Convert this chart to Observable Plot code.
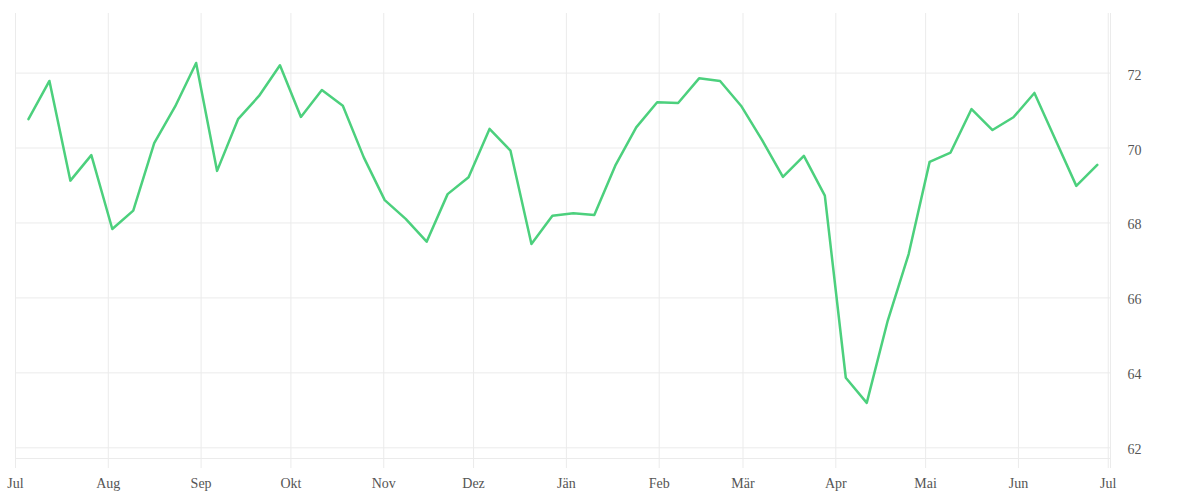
<!DOCTYPE html>
<html><head><meta charset="utf-8">
<script src="https://cdn.jsdelivr.net/npm/d3@7"></script>
<script src="https://cdn.jsdelivr.net/npm/@observablehq/plot@0.6"></script>
<style>body{margin:0;background:#fff} svg{display:block}</style>
</head><body><div id="chart"></div>
<script>
const weeks = [
  "2018-07-05","2018-07-12","2018-07-19","2018-07-26",
  "2018-08-02","2018-08-09","2018-08-16","2018-08-23","2018-08-30",
  "2018-09-06","2018-09-13","2018-09-20","2018-09-27",
  "2018-10-04","2018-10-11","2018-10-18","2018-10-25",
  "2018-11-01","2018-11-08","2018-11-15","2018-11-22","2018-11-29",
  "2018-12-06","2018-12-13","2018-12-20","2018-12-27",
  "2019-01-03","2019-01-10","2019-01-17","2019-01-24","2019-01-31",
  "2019-02-07","2019-02-14","2019-02-21","2019-02-28",
  "2019-03-07","2019-03-14","2019-03-21","2019-03-28",
  "2019-04-04","2019-04-11","2019-04-18","2019-04-25",
  "2019-05-02","2019-05-09","2019-05-16","2019-05-23","2019-05-30",
  "2019-06-06","2019-06-13","2019-06-20","2019-06-27"
];
const values = [
  70.77, 71.79, 69.13, 69.81,
  67.84, 68.33, 70.13, 71.11, 72.27,
  69.39, 70.77, 71.39, 72.21,
  70.83, 71.55, 71.13, 69.75,
  68.61, 68.11, 67.50, 68.77, 69.22,
  70.51, 69.93, 67.44, 68.19,
  68.26, 68.21, 69.53, 70.55, 71.22,
  71.20, 71.86, 71.79, 71.13,
  70.22, 69.23, 69.79, 68.73,
  63.87, 63.20, 65.39, 67.17,
  69.63, 69.88, 71.04, 70.48, 70.82,
  71.47, 70.23, 68.99, 69.55
];
const monthTicks = ["2018-07-01","2018-08-01","2018-09-01","2018-10-01","2018-11-01","2018-12-01",
  "2019-01-01","2019-02-01","2019-03-01","2019-04-01","2019-05-01","2019-06-01","2019-07-01"];
const monthLabels = ["Jul","Aug","Sep","Okt","Nov","Dez","Jän","Feb","Mär","Apr","Mai","Jun","Jul"];
const yTicks = [62, 64, 66, 68, 70, 72];

const data = weeks.map((w, i) => ({date: new Date(w + "T08:00Z"), value: values[i]}));
const tickDates = monthTicks.map(d => new Date(d));
const labelByTime = new Map(tickDates.map((d, i) => [+d, monthLabels[i]]));
const grid = "#ebebeb";
const yMin = 61.715, yMax = 73.59, yTickEnd = 61.448;
const xEnd = new Date("2019-07-01T18:00Z");

const chart = Plot.plot({
  width: 1200, height: 500,
  marginLeft: 15, marginRight: 90, marginTop: 13, marginBottom: 42,
  style: {fontFamily: "'Liberation Serif', serif", fontSize: "14px", color: "#555", background: "#fff"},
  x: {type: "utc", domain: [new Date("2018-07-01"), xEnd]},
  y: {domain: [yMin, yMax]},
  marks: [
    Plot.ruleY(yTicks, {stroke: grid, strokeWidth: 1}),
    Plot.ruleY([yMin], {stroke: grid, strokeWidth: 1}),
    Plot.ruleX(tickDates, {y1: yMax, y2: yTickEnd, stroke: grid, strokeWidth: 1}),
    Plot.ruleX([xEnd], {y1: yMax, y2: yTickEnd, stroke: grid, strokeWidth: 1}),
    Plot.axisX(tickDates, {tickSize: 0, tickPadding: 20, label: null, tickFormat: d => labelByTime.get(+d), fill: "#555"}),
    Plot.axisY(yTicks, {anchor: "right", tickSize: 0, tickPadding: 17, dy: 2, label: null, fill: "#555"}),
    Plot.line(data, {x: "date", y: "value", stroke: "#4cd07d", strokeWidth: 2.5})
  ]
});
document.getElementById("chart").append(chart);
</script>
</body></html>
